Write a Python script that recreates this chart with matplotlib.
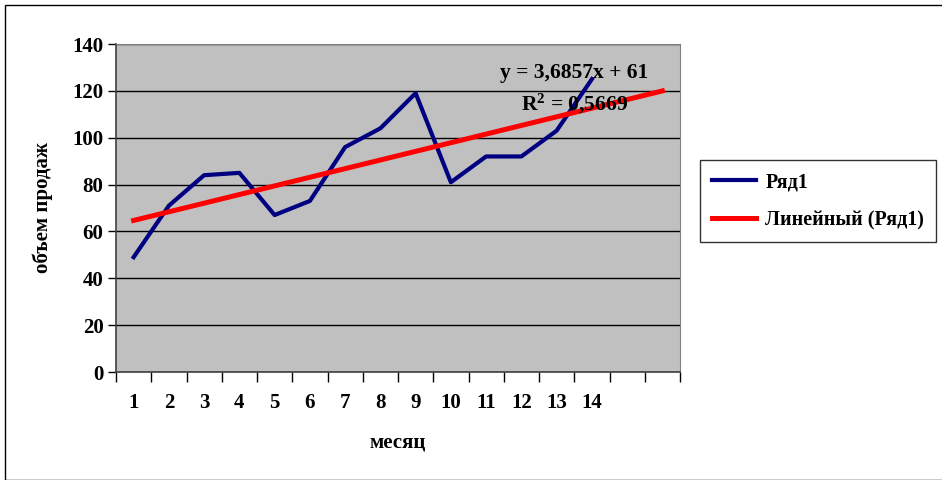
import numpy as np
import matplotlib
matplotlib.use("Agg")
import matplotlib.pyplot as plt
from matplotlib.patches import Rectangle

# данные: объем продаж по месяцам
months = list(range(1, 15))
sales = [49, 71, 84, 85, 67, 73, 96, 104, 119, 81, 92, 92, 103, 125]
y_ticks = [0, 20, 40, 60, 80, 100, 120, 140]

plt.rcParams['font.family'] = ['Liberation Serif', 'DejaVu Serif']
plt.rcParams['font.weight'] = 'bold'
plt.rcParams['mathtext.fontset'] = 'custom'
plt.rcParams['mathtext.rm'] = 'Liberation Serif:bold'
plt.rcParams['mathtext.bf'] = 'Liberation Serif:bold'

fig = plt.figure(figsize=(9.42, 4.8), dpi=100)
ax = fig.add_axes([116 / 942, 1 - 372 / 480, 564 / 942, 328 / 480])
ax.set_facecolor('#C0C0C0')

# линейный тренд, продлен на 2 периода вперед
k, b = np.polyfit(months, sales, 1)
trend_x = np.arange(1, 17)
trend_y = k * trend_x + b
r2 = np.corrcoef(months, sales)[0, 1] ** 2

ax.plot(months, sales, color='#000080', lw=3, label='Ряд1', zorder=3)
ax.plot(trend_x, trend_y, color='#FF0000', lw=3.6, label='Линейный (Ряд1)', zorder=4)

ax.set_xlim(0.5, 16.5)
ax.set_ylim(0, 140)
ax.set_yticks(y_ticks)
ax.yaxis.grid(True, color='black', lw=1)
ax.set_axisbelow(True)

ax.set_xticks(months)
ax.set_xticks(np.arange(0.5, 17, 1), minor=True)
ax.tick_params(axis='x', which='major', length=0, pad=15, labelsize=15)
ax.tick_params(axis='x', which='minor', length=7, width=1, direction='out')
ax.tick_params(axis='y', length=6, width=1, labelsize=15, pad=3)

for s in ['top', 'right']:
    ax.spines[s].set_color('#808080')
for s in ['left', 'bottom']:
    ax.spines[s].set_color('#404040')
    ax.spines[s].set_linewidth(1.2)

ax.set_xlabel('месяц', fontsize=15, fontweight='bold', labelpad=14)
ax.set_ylabel('объем продаж', fontsize=15, fontweight='bold', labelpad=14)

eq = 'y = ' + f'{k:.4f}'.replace('.', ',') + f'x + {b:.0f}'
ax.text(13.5, 127.5, eq, ha='center', va='center', fontsize=15.5, fontweight='bold', zorder=5)
ax.text(13.5, 114.5, '$\\mathbf{R^2}$ = ' + f'{r2:.4f}'.replace('.', ','),
        ha='center', va='center', fontsize=15.5, fontweight='bold', zorder=5)

leg = fig.legend(loc='upper left', bbox_to_anchor=(700 / 942, 1 - 160 / 480),
                 fontsize=14.5, frameon=True, fancybox=False, handlelength=2.2,
                 borderpad=0.6, labelspacing=0.9, handletextpad=0.45, borderaxespad=0)
leg.get_frame().set_edgecolor('black')
leg.get_frame().set_linewidth(1)

fig.patches.append(Rectangle((5 / 942, 0), 1, 1 - 5 / 480, transform=fig.transFigure,
                             fill=False, edgecolor='black', lw=1))

fig.savefig('out.png', dpi=100)
